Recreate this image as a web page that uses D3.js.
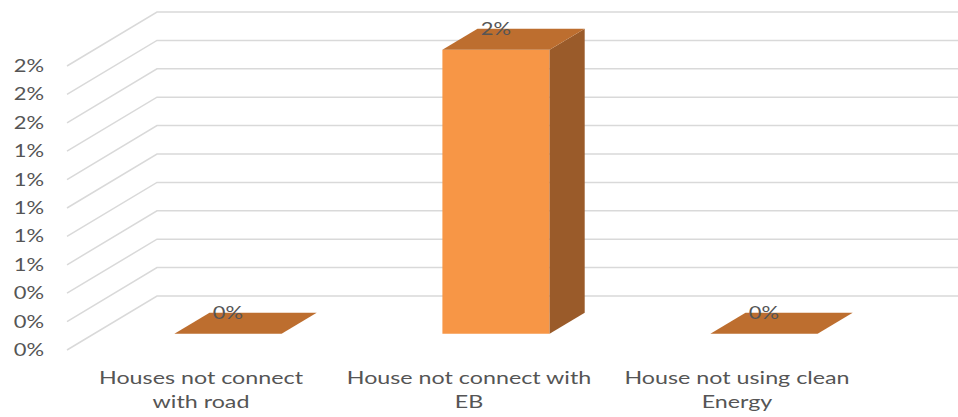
<!DOCTYPE html>
<html><head><meta charset="utf-8">
<script src="https://cdn.jsdelivr.net/npm/d3@7"></script>
<style>body{margin:0;background:#fff}svg{display:block}text{font-family:Lato,"Open Sans",sans-serif;fill:#555555}</style>
</head><body><svg id="c" width="958" height="417"></svg>
<script>
const categories = [["Houses not connect","with road"],["House not connect with","EB"],["House not using clean","Energy"]];
const values = [0, 0.02, 0];
const tickValues = [0,0.002,0.004,0.006,0.008,0.010,0.012,0.014,0.016,0.018,0.020];

const svg = d3.select("#c");
const depthDX = 90, depthDY = -54;
const stretch = 1.33;
const x = d3.scaleBand().domain(d3.range(categories.length)).range([67, 871]).paddingInner(0.6).paddingOuter(0.3);
const y = d3.scaleLinear().domain([0, 0.02]).range([350, 66]);
const P = (px, v, z) => [px + z*depthDX, y(v) + z*depthDY];
const fmt = d3.format(".0%");

// stretched text helper
function label(g, tx, ty, str, size, anchor) {
  return g.append("text").attr("transform", `translate(${tx},${ty}) scale(${stretch},1)`)
    .attr("text-anchor", anchor).attr("font-size", size).text(str);
}

// gridlines
const grid = svg.append("g");
tickValues.forEach(t => {
  const a = P(67, t, 0), b = P(67, t, 1);
  grid.append("path").attr("d", `M${a[0]},${a[1]}L${b[0]},${b[1]}L958,${b[1]}`)
    .attr("fill","none").attr("stroke","#d9d9d9").attr("stroke-width",1.5);
});
// y labels
const yl = svg.append("g");
tickValues.forEach(t => label(yl, 44, y(t) + 6, fmt(t), 16.5, "end"));

const z0 = 0.3, z1 = 0.69;
const bars = svg.append("g");
values.forEach((v, i) => {
  const xl = x(i), xr = x(i) + x.bandwidth();
  const poly = pts => pts.map(p => p.join(",")).join(" ");
  if (v > 0) {
    bars.append("polygon").attr("points", poly([P(xl,0,z0),P(xr,0,z0),P(xr,v,z0),P(xl,v,z0)])).attr("fill","#f79646");
    bars.append("polygon").attr("points", poly([P(xr,0,z0),P(xr,0,z1),P(xr,v,z1),P(xr,v,z0)])).attr("fill","#9a5b2a");
  }
  bars.append("polygon").attr("points", poly([P(xl,v,z0),P(xr,v,z0),P(xr,v,z1),P(xl,v,z1)])).attr("fill","#bd6e2f");
  const c = P((xl+xr)/2, v, z0), tb = P(xl, v, z1);
  label(svg, c[0], tb[1] + 6, fmt(v), 16.5, "middle");
});

// category labels
const lab = svg.append("g");
categories.forEach((lines, i) => {
  const cx = x(i) + x.bandwidth()/2;
  lines.forEach((l, j) => label(lab, cx, 384 + j*23.5, l, 17.5, "middle"));
});
</script></body></html>
